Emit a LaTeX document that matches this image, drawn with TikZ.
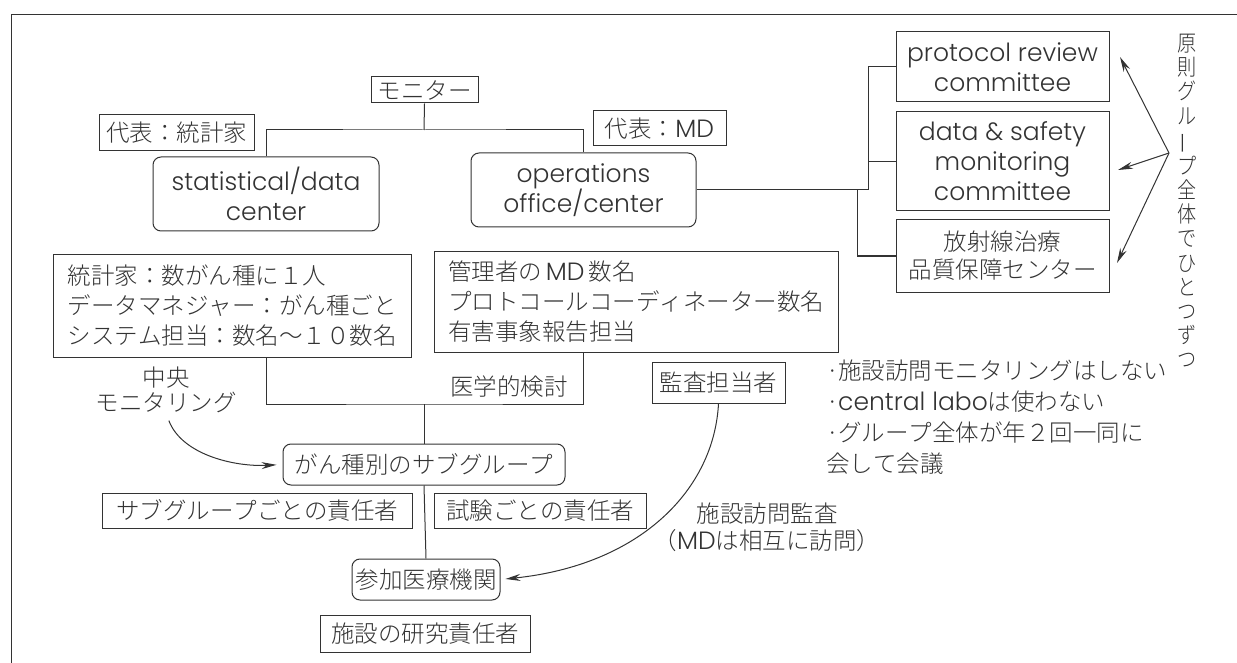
\documentclass[tikz,border=0pt]{standalone}
\usepackage{fontspec}
\usepackage{graphicx}
\setmainfont{Noto Sans CJK JP Light}[Kerning=Off]
\newfontfamily\latfam{Poppins Light}
\usetikzlibrary{arrows.meta,calc}
\definecolor{ink}{HTML}{333333}
\newcommand\jpf{\fontsize{23.5}{30}\selectfont}
\newcommand\latf{\latfam\fontsize{25}{30}\selectfont}
\newcommand\vch[1]{\scalebox{0.85}[1]{#1}}
\begin{document}
\begin{tikzpicture}[x=1pt,y=-1pt,
  every node/.style={text=ink, inner sep=0pt, font=\jpf},
  box/.style={draw=ink, line width=1pt, inner sep=0pt, align=center},
  rbox/.style={box, rounded corners=8pt},
  ln/.style={draw=ink, line width=1pt},
  arr/.style={ln, -{Stealth[length=15pt,width=7pt]}}]
\useasboundingbox (0,0) rectangle (1237,663);
% frame
\draw[ln, line width=1pt] (11,663) -- (11,15) -- (1237,15);

% top part
\node[box, minimum width=107pt, minimum height=26pt] (mon) at (424.5,90) {モニター};
\node[box, minimum width=155pt, minimum height=36pt] (rep1) at (176.5,133) {代表：統計家};
\node[rbox, minimum width=226pt, minimum height=74pt, font=\latf] (sdc) at (266,194) {statistical/data\\center};
\node[box, minimum width=133pt, minimum height=35pt] (rep2) at (659.5,128.5) {代表：{\latf MD}};
\node[rbox, minimum width=225pt, minimum height=74pt, font=\latf] (ops) at (583.5,190) {operations\\office/center};
\node[box, minimum width=213pt, minimum height=70pt, font=\latf] (prc) at (1002.5,67) {protocol review\\committee};
\node[box, minimum width=213pt, minimum height=99pt, font=\latf] (dsm) at (1002.5,161.5) {data \& safety\\monitoring\\committee};
\node[box, minimum width=213pt, minimum height=72pt, font=\fontsize{23.5}{28}\selectfont] (rad) at (1002.5,256) {放射線治療\\品質保障センター};

\coordinate (h) at (424,130);
\coordinate (c868) at (868,0);
\coordinate (c857) at (857,0);
\draw[ln] (mon.south) -- (h);
\draw[ln] (sdc.north) |- (h) -| (ops.north);
\draw[ln] (ops.east) -- (ops.east -| c868) |- (prc.west);
\draw[ln] (dsm.west) -- (dsm.west -| c868);
\draw[ln] (ops.east -| c857) |- (rad.west);

% vertical text and arrows
\node[align=center, font=\fontsize{22.5}{24.2}\selectfont] (vt) at (1187,201)
  {\vch{原}\\\vch{則}\\\vch{グ}\\\vch{ル}\\\rotatebox[origin=c]{90}{ー}\\\vch{プ}\\\vch{全}\\\vch{体}\\\vch{で}\\\vch{ひ}\\\vch{と}\\\vch{つ}\\\vch{ず}\\\vch{つ}};
\coordinate (ao) at (1169,153);
\coordinate (t1) at (1120,57);
\coordinate (t2) at (1118,170);
\coordinate (t3) at (1117,263);
\draw[arr] (ao) -- (t1);
\draw[arr] (ao) -- (t2);
\draw[arr] (ao) -- (t3);

% middle
\node[box, minimum width=358pt, minimum height=102pt, align=left] (stats) at (232,306)
  {統計家：数がん種に１人\\データマネジャー：がん種ごと\\システム担当：数名〜１０数名};
\node[box, minimum width=404pt, minimum height=100pt, align=left] (mgmt) at (636,302)
  {管理者の\,{\latf MD}\,数名\\プロトコールコーディネーター数名\\有害事象報告担当};
\node (med) at (509,387) {医学的検討};
\node[box, minimum width=133pt, minimum height=41pt] (audit) at (718.5,382.5) {監査担当者};
\node[align=center, font=\fontsize{23.5}{25}\selectfont] (cm) at (166,390) {中央\\モニタリング};

\node[anchor=north west, align=left, font=\fontsize{23.5}{31}\selectfont] (notes) at (826,360)
  {\makebox[12pt][l]{·}施設訪問モニタリングはしない\\
   \makebox[12pt][l]{·}{\latf central labo}は使わない\\
   \makebox[12pt][l]{·}グループ全体が年２回一同に\\
   会して会議};

% lower
\node[rbox, minimum width=282pt, minimum height=41pt] (sub) at (424,464.5) {がん種別のサブグループ};
\node[box, minimum width=310pt, minimum height=35pt] (subresp) at (257,510.5) {サブグループごとの責任者};
\node[box, minimum width=212pt, minimum height=35pt] (trialresp) at (540,510.5) {試験ごとの責任者};
\node[rbox, minimum width=148pt, minimum height=41pt] (inst) at (426,579.5) {参加医療機関};
\node[box, minimum width=210pt, minimum height=37pt] (pi) at (425,633.5) {施設の研究責任者};
\node[align=center, font=\fontsize{23.5}{27}\selectfont] (visit) at (767,527) {施設訪問監査\\（{\latf MD}は相互に訪問）};

\coordinate (u) at (424,404);
\draw[ln] (stats.south -| sdc) |- (u) -| (mgmt.south -| ops);
\draw[ln] (u) -- (sub.north);
\draw[ln] (sub.south) -- (inst.north);
\draw[arr, shorten <=8pt, shorten >=6pt] (cm.south) .. controls (182,455) and (235,467) .. (sub.west);
\draw[arr, shorten >=5pt] (audit.south) .. controls (714,490) and (640,565) .. (inst.east);
\end{tikzpicture}
\end{document}
